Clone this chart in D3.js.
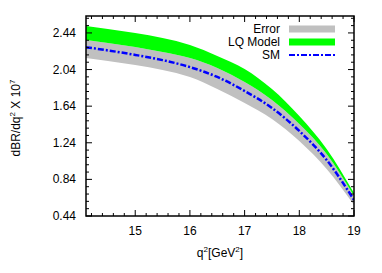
<!DOCTYPE html>
<html>
<head>
<meta charset="utf-8">
<script src="https://cdn.jsdelivr.net/npm/d3@7"></script>
<style>
  body { margin: 0; background: #fff; }
  text { font-family: "Liberation Sans", Arial, sans-serif; fill: #000; }
</style>
</head>
<body>
<div id="chart"></div>
<script>
// q^2 sample points and the three bands / line
var q2 = [14.1, 14.5, 15, 15.5, 16, 16.5, 17, 17.5, 18, 18.5, 19];
var lqUpper = [2.517, 2.484, 2.440, 2.385, 2.309, 2.189, 2.047, 1.828, 1.533, 1.172, 0.691];
var lqLower = [2.364, 2.331, 2.287, 2.232, 2.167, 2.058, 1.904, 1.708, 1.445, 1.118, 0.659];
var errLower = [2.167, 2.134, 2.090, 2.036, 1.959, 1.828, 1.675, 1.500, 1.260, 0.954, 0.560];
var smValues = [2.284, 2.249, 2.200, 2.143, 2.067, 1.959, 1.806, 1.620, 1.369, 1.052, 0.615];

var xTicks = [15, 16, 17, 18, 19];
var yTicks = [0.44, 0.84, 1.24, 1.64, 2.04, 2.44];
var legendLabels = ["Error", "LQ Model", "SM"];

function init() {
    var w = 382, h = 273;
    var left = 86, right = 354, top = 16, bottom = 216;

    var svg = d3.select("#chart").append("svg")
        .attr("width", w)
        .attr("height", h);

    var x = d3.scaleLinear().domain([14.1, 19]).range([left, right]);
    var y = d3.scaleLinear().domain([0.44, 2.625]).range([bottom, top]);

    var pts = q2.map(function(d, i) {
        return { q: d, up: lqUpper[i], mid: lqLower[i], lo: errLower[i], sm: smValues[i] };
    });

    svg.append("clipPath").attr("id", "clip")
        .append("rect")
        .attr("x", left).attr("y", top)
        .attr("width", right - left).attr("height", bottom - top);

    var plot = svg.append("g").attr("clip-path", "url(#clip)");

    // error band (grey), then LQ band (green) on top
    var errArea = d3.area()
        .x(function(d) { return x(d.q); })
        .y0(function(d) { return y(d.lo); })
        .y1(function(d) { return y(d.mid); })
        .curve(d3.curveMonotoneX);
    plot.append("path").datum(pts)
        .attr("d", errArea)
        .attr("fill", "#c0c0c0");

    var lqArea = d3.area()
        .x(function(d) { return x(d.q); })
        .y0(function(d) { return y(d.mid); })
        .y1(function(d) { return y(d.up); })
        .curve(d3.curveMonotoneX);
    plot.append("path").datum(pts)
        .attr("d", lqArea)
        .attr("fill", "#00ff00");

    var smLine = d3.line()
        .x(function(d) { return x(d.q); })
        .y(function(d) { return y(d.sm); })
        .curve(d3.curveMonotoneX);
    plot.append("path").datum(pts)
        .attr("d", smLine)
        .attr("fill", "none")
        .attr("stroke", "#0000ff")
        .attr("stroke-width", 2.5)
        .attr("stroke-dasharray", "6,2,2,2");

    // ticks, gnuplot style: inward, mirrored on top and right
    var xMinor = d3.range(14.2, 19.001, 0.2);
    var yMinor = d3.range(0.44, 2.63, 0.08);
    var ticks = svg.append("g").attr("stroke", "#000").attr("stroke-width", 1);

    xMinor.forEach(function(v) {
        var major = xTicks.some(function(t) { return Math.abs(t - v) < 1e-6; });
        var len = major ? 6 : 3;
        ticks.append("line").attr("x1", x(v)).attr("x2", x(v))
            .attr("y1", bottom).attr("y2", bottom - len);
        ticks.append("line").attr("x1", x(v)).attr("x2", x(v))
            .attr("y1", top).attr("y2", top + len);
    });
    yMinor.forEach(function(v) {
        var major = yTicks.some(function(t) { return Math.abs(t - v) < 1e-6; });
        var len = major ? 6 : 3;
        ticks.append("line").attr("y1", y(v)).attr("y2", y(v))
            .attr("x1", left).attr("x2", left + len);
        ticks.append("line").attr("y1", y(v)).attr("y2", y(v))
            .attr("x1", right).attr("x2", right - len);
    });

    // frame
    svg.append("rect")
        .attr("x", left).attr("y", top)
        .attr("width", right - left).attr("height", bottom - top)
        .attr("fill", "none")
        .attr("stroke", "#000")
        .attr("stroke-width", 1.5);

    // tick labels
    svg.selectAll("text.xt").data(xTicks).enter().append("text")
        .attr("class", "xt")
        .attr("x", function(d) { return x(d); })
        .attr("y", 235)
        .attr("text-anchor", "middle")
        .attr("font-size", 12)
        .text(function(d) { return d; });

    svg.selectAll("text.yt").data(yTicks).enter().append("text")
        .attr("class", "yt")
        .attr("x", 76)
        .attr("y", function(d) { return y(d) + 4; })
        .attr("text-anchor", "end")
        .attr("font-size", 12)
        .text(function(d) { return d.toFixed(2); });

    // axis titles
    var xt = svg.append("text")
        .attr("x", 220).attr("y", 257)
        .attr("text-anchor", "middle")
        .attr("font-size", 12);
    xt.append("tspan").text("q");
    xt.append("tspan").attr("dy", -5).attr("font-size", 8).text("2");
    xt.append("tspan").attr("dy", 5).text("[GeV");
    xt.append("tspan").attr("dy", -5).attr("font-size", 8).text("2");
    xt.append("tspan").attr("dy", 5).text("]");

    var yt = svg.append("text")
        .attr("transform", "translate(20,118) rotate(-90)")
        .attr("text-anchor", "middle")
        .attr("font-size", 12);
    yt.append("tspan").text("dBR/dq");
    yt.append("tspan").attr("dy", -5).attr("font-size", 8).text("2");
    yt.append("tspan").attr("dy", 5).text(" X 10");
    yt.append("tspan").attr("dy", -5).attr("font-size", 8).text("7");

    // legend
    var legend = svg.append("g");
    var rows = legend.selectAll("g.row").data(legendLabels).enter().append("g")
        .attr("class", "row")
        .attr("transform", function(d, i) { return "translate(0," + (29 + i * 13) + ")"; });
    rows.append("text")
        .attr("x", 280).attr("y", 4)
        .attr("text-anchor", "end")
        .attr("font-size", 12)
        .text(function(d) { return d; });
    rows.filter(function(d, i) { return i < 2; }).append("rect")
        .attr("x", 289).attr("y", -3.5)
        .attr("width", 46).attr("height", 7)
        .attr("fill", function(d, i) { return i === 0 ? "#c0c0c0" : "#00ff00"; });
    rows.filter(function(d, i) { return i === 2; }).append("line")
        .attr("x1", 289).attr("x2", 335)
        .attr("y1", 0).attr("y2", 0)
        .attr("stroke", "#0000ff")
        .attr("stroke-width", 2)
        .attr("stroke-dasharray", "6,2,2,2");
}

window.onload = init;
</script>
</body>
</html>
